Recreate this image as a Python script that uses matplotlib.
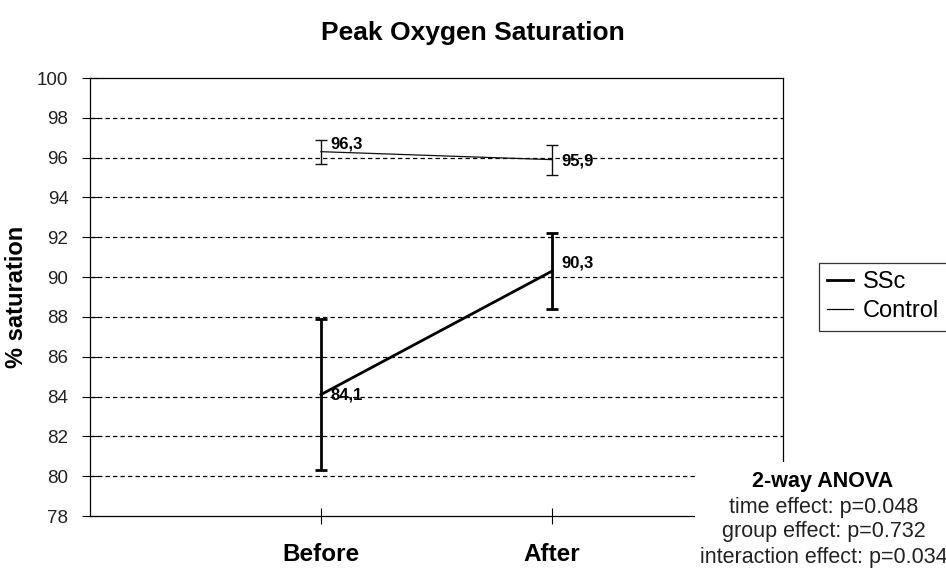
import matplotlib.pyplot as plt
from matplotlib.lines import Line2D
from matplotlib.patches import Rectangle
import numpy as np

plt.rcParams['font.family'] = ['Liberation Sans', 'DejaVu Sans']

categories = ['Before', 'After']
ssc_mean = [84.1, 90.3]
ssc_sd = [3.8, 1.9]
control_mean = [96.3, 95.9]
control_sd = [0.6, 0.75]
ssc_labels = ['84,1', '90,3']
control_labels = ['96,3', '95,9']
anova_lines = ['time effect: p=0.048', 'group effect: p=0.732', 'interaction effect: p=0.034']


def main():
    fig = plt.figure(figsize=(9.46, 5.69), dpi=100)
    ax = fig.add_axes([0.0951, 0.0931, 0.7326, 0.7698])

    x = np.arange(1, len(categories) + 1)

    # dashed grid lines every 2 units
    for y in range(80, 100, 2):
        ax.axhline(y, color='black', lw=0.9, ls=(0, (3.5, 2.5)), zorder=1)

    ax.errorbar(x, ssc_mean, yerr=ssc_sd, color='black', lw=2.0, capsize=4.5,
                capthick=2.0, elinewidth=2.0, zorder=3)
    ax.errorbar(x, control_mean, yerr=control_sd, color='#111111', lw=0.9, capsize=4.5,
                capthick=1.0, elinewidth=1.0, zorder=3)

    # data labels
    lab = dict(fontsize=12, fontweight='bold', va='center', ha='left')
    ax.text(x[0] + 0.04, ssc_mean[0], ssc_labels[0], **lab)
    ax.text(x[1] + 0.04, ssc_mean[1] + 0.4, ssc_labels[1], **lab)
    ax.text(x[0] + 0.04, control_mean[0] + 0.4, control_labels[0], **lab)
    ax.text(x[1] + 0.04, control_mean[1] - 0.05, control_labels[1], **lab)

    ax.set_xlim(0, 3)
    ax.set_ylim(78, 100)
    ax.set_yticks(np.arange(78, 101, 2))
    ax.set_xticks(x)
    ax.set_xticklabels(categories, fontsize=17.5, fontweight='bold')
    ax.tick_params(axis='y', direction='inout', length=11, width=0.8, labelsize=13.5,
                   pad=10, labelcolor='#222222')
    ax.tick_params(axis='x', direction='inout', length=11, width=0.8, pad=14)
    for s in ax.spines.values():
        s.set_linewidth(0.9)

    ax.set_ylabel('% saturation', fontsize=17, fontweight='bold')
    ax.yaxis.set_label_coords(-0.089, 0.5)
    fig.text(0.5, 0.942, 'Peak Oxygen Saturation', ha='center', va='center',
             fontsize=19, fontweight='bold')

    handles = [Line2D([], [], color='black', lw=2.0),
               Line2D([], [], color='black', lw=0.9)]
    leg = fig.legend(handles, ['SSc', 'Control'], loc='upper left',
                     bbox_to_anchor=(0.866, 1 - 263 / 569), frameon=True, fancybox=False,
                     edgecolor='black', fontsize=17, handlelength=1.1,
                     handletextpad=0.4, borderpad=0.35, labelspacing=0.3,
                     borderaxespad=0)
    leg.get_frame().set_linewidth(0.9)

    # white text box for the ANOVA note, covering the corner of the plot
    box = Rectangle((695 / 946, 0), 1 - 695 / 946, 1 - 462 / 569,
                    transform=fig.transFigure, facecolor='white', edgecolor='none',
                    zorder=2)
    fig.patches.append(box)

    fig.text(0.869, 1 - 481 / 569, '2-way ANOVA', ha='center', va='center',
             fontsize=15.5, fontweight='bold', zorder=3)
    for i, line in enumerate(anova_lines):
        fig.text(0.871, 1 - (507 + 25 * i) / 569, line, ha='center', va='center',
                 fontsize=15.5, color='#222222', zorder=3)

    fig.savefig('out.png', dpi=100)


main()
